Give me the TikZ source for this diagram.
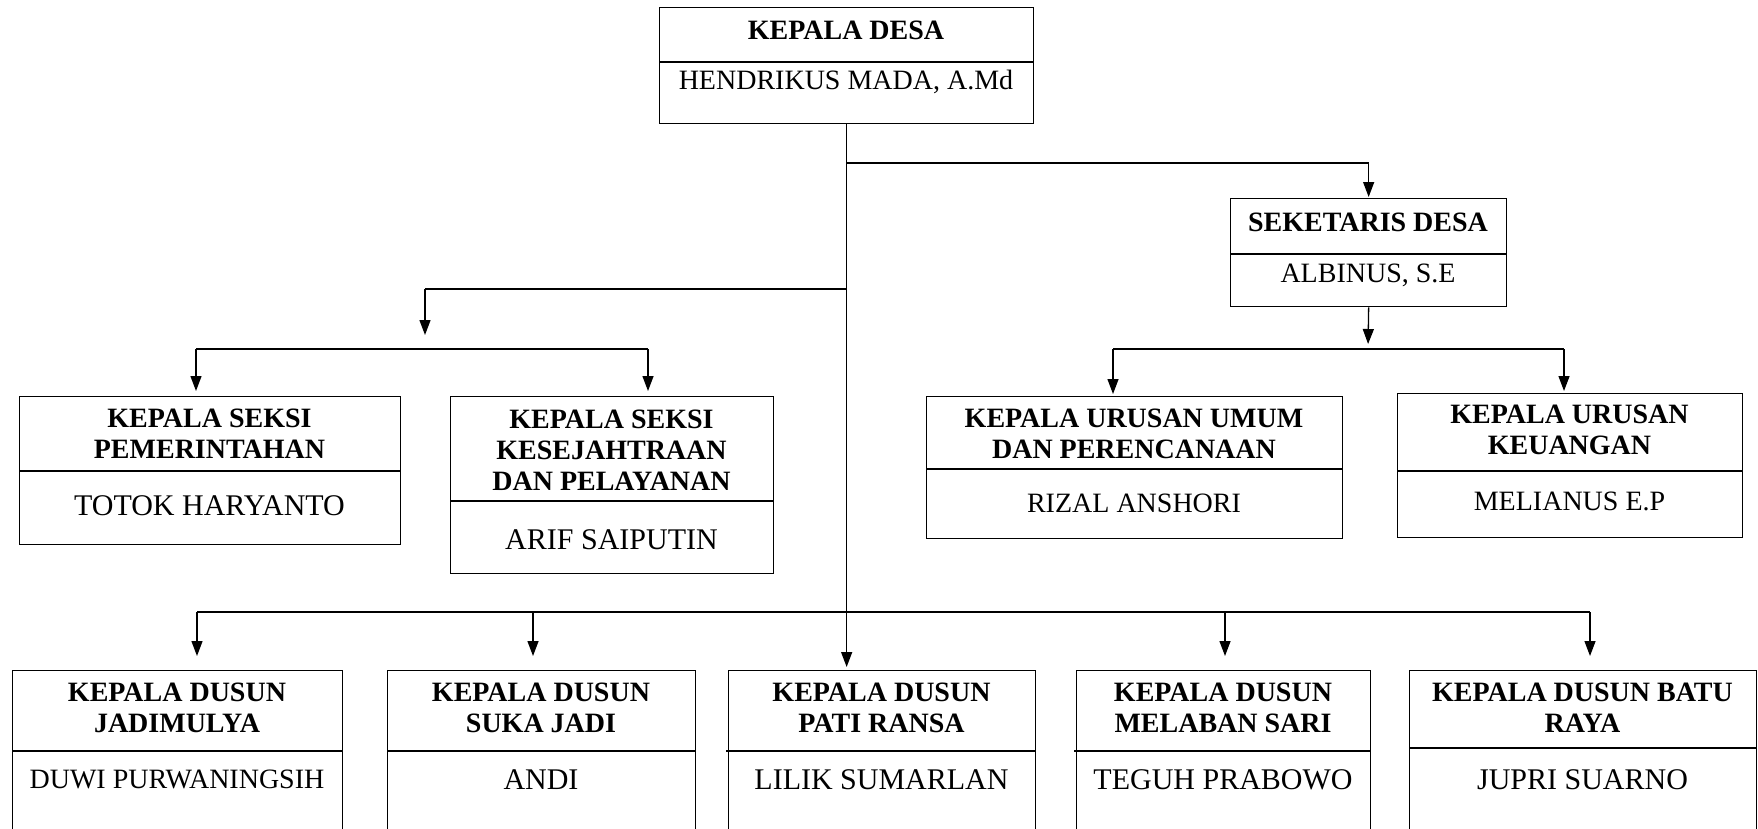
\documentclass[tikz,border=0pt]{standalone}
\usepackage{fontspec}
\setmainfont{Liberation Serif}
\usetikzlibrary{arrows.meta}
\begin{document}
\begin{tikzpicture}[x=1pt,y=-1pt,
  font=\fontsize{28}{31}\selectfont,
  box/.style={draw, line width=1.3pt, inner sep=0pt, anchor=north west},
  ttl/.style={font=\fontsize{28}{31}\selectfont\bfseries, align=center, inner sep=0pt},
  nm/.style={font=\fontsize{28}{31}\selectfont, align=center, inner sep=0pt},
  nmbig/.style={font=\fontsize{30}{33}\selectfont, align=center, inner sep=0pt},
  conn/.style={line width=1.3pt},
  arr/.style={conn, -{Triangle[width=11pt,length=15pt]}}]
\clip (0,0) rectangle (1758,828);
\fill[white] (0,0) rectangle (1758,828);
% boxes
\node[box, minimum width=374pt, minimum height=116pt] (kd) at (659,7) {};
\draw[conn] (659,62) -- (1033,62);
\node[ttl] (kdt) at (846,30) {KEPALA DESA};
\node[nm] (kdn) at (846,82) {HENDRIKUS MADA, A.Md};

\node[box, minimum width=276pt, minimum height=108pt] (sk) at (1230,198) {};
\draw[conn] (1230,254) -- (1506,254);
\node[ttl] (skt) at (1368,222) {SEKETARIS DESA};
\node[nm] (skn) at (1368,275) {ALBINUS, S.E};

\node[box, minimum width=381pt, minimum height=148pt] (pem) at (19,396) {};
\draw[conn] (19,471) -- (400,471);
\node[ttl] (pemt) at (209.5,434) {KEPALA SEKSI\\PEMERINTAHAN};
\node[nmbig] (pemn) at (209.5,506) {TOTOK HARYANTO};

\node[box, minimum width=323pt, minimum height=177pt] (kes) at (450,396) {};
\draw[conn] (450,501) -- (773,501);
\node[ttl] (kest) at (611.5,450) {KEPALA SEKSI\\KESEJAHTRAAN\\DAN PELAYANAN};
\node[nmbig] (kesn) at (611.5,540) {ARIF SAIPUTIN};

\node[box, minimum width=416pt, minimum height=142pt] (umum) at (926,396) {};
\draw[conn] (926,469) -- (1342,469);
\node[ttl] (umumt) at (1134,434) {KEPALA URUSAN UMUM\\DAN PERENCANAAN};
\node[nm] (umumn) at (1134,503) {RIZAL ANSHORI};

\node[box, minimum width=345pt, minimum height=144pt] (keu) at (1397,393) {};
\draw[conn] (1397,471) -- (1742,471);
\node[ttl] (keut) at (1569.5,430) {KEPALA URUSAN\\KEUANGAN};
\node[nm] (keun) at (1569.5,501) {MELIANUS E.P};

\node[box, minimum width=330pt, minimum height=180pt] (jad) at (12,670) {};
\draw[conn] (12,751) -- (342,751);
\node[ttl] (jadt) at (177,708) {KEPALA DUSUN\\JADIMULYA};
\node[nm] (jadn) at (177,779) {DUWI PURWANINGSIH};

\node[box, minimum width=308pt, minimum height=180pt] (suka) at (387,670) {};
\draw[conn] (387,751) -- (695,751);
\node[ttl] (sukat) at (541,708) {KEPALA DUSUN\\SUKA JADI};
\node[nmbig] (sukan) at (541,780) {ANDI};

\node[box, minimum width=307pt, minimum height=180pt] (pati) at (728,670) {};
\draw[conn] (726,751) -- (1035,751);
\node[ttl] (patit) at (881.5,708) {KEPALA DUSUN\\PATI RANSA};
\node[nmbig] (patin) at (881.5,780) {LILIK SUMARLAN};

\node[box, minimum width=294pt, minimum height=180pt] (mel) at (1076,670) {};
\draw[conn] (1074,751) -- (1370,751);
\node[ttl] (melt) at (1223,708) {KEPALA DUSUN\\MELABAN SARI};
\node[nmbig] (meln) at (1223,780) {TEGUH PRABOWO};

\node[box, minimum width=347pt, minimum height=180pt] (batu) at (1409,670) {};
\draw[conn] (1409,748) -- (1756,748);
\node[ttl] (batut) at (1582.5,708) {KEPALA DUSUN BATU\\RAYA};
\node[nmbig] (batun) at (1582.5,780) {JUPRI SUARNO};

% junction coordinates
\coordinate (jS) at (846,163);
\coordinate (jL) at (846,289);
\coordinate (jL1) at (425,289);
\coordinate (jL2) at (425,349);
\coordinate (jLa) at (196,349);
\coordinate (jLb) at (648,349);
\coordinate (jR) at (1368,349);
\coordinate (jRa) at (1113,349);
\coordinate (jRb) at (1564,349);
\coordinate (jB) at (846,612);
\coordinate (jB1) at (197,612);
\coordinate (jB2) at (533,612);
\coordinate (jB4) at (1225,612);
\coordinate (jB5) at (1590,612);

% connectors
\draw[arr, shorten >=3pt] (kd.south) -- (kd.south |- pati.north);
\draw[arr, shorten >=1pt] (jS) -| (sk.north);
\draw[arr, shorten >=5pt] (sk.south) -- (jR);
\draw[conn] (jRa) -- (jRb);
\draw[arr, shorten >=2pt] (jRa) -- (jRa |- umum.north);
\draw[arr, shorten >=2pt] (jRb) -- (jRb |- keu.north);
\draw[conn] (jL) -- (jL1);
\draw[arr, shorten >=14pt] (jL1) -- (jL2);
\draw[conn] (jLa) -- (jLb);
\draw[arr, shorten >=5pt] (jLa) -- (jLa |- pem.north);
\draw[arr, shorten >=5pt] (jLb) -- (jLb |- kes.north);
\draw[conn] (jB1) -- (jB5);
\draw[arr, shorten >=14pt] (jB1) -- (jB1 |- jad.north);
\draw[arr, shorten >=14pt] (jB2) -- (jB2 |- suka.north);
\draw[arr, shorten >=14pt] (jB4) -- (jB4 |- mel.north);
\draw[arr, shorten >=14pt] (jB5) -- (jB5 |- batu.north);
\end{tikzpicture}
\end{document}
